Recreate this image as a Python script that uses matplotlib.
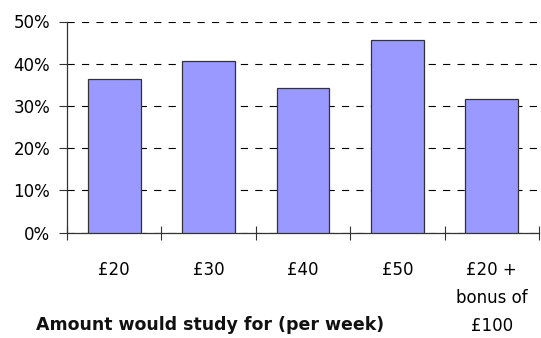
import matplotlib
matplotlib.use("Agg")
import matplotlib.pyplot as plt
from matplotlib.ticker import FuncFormatter

categories = ["£20", "£30", "£40", "£50", "£20 +\nbonus of\n£100"]
shares = [36.3, 40.7, 34.2, 45.7, 31.7]
y_ticks = [0, 10, 20, 30, 40, 50]
x_title = "Amount would study for (per week)"

plt.rcParams["font.family"] = ["DejaVu Sans"]
W, H = 541, 338
fig = plt.figure(figsize=(W / 100, H / 100), dpi=100)
ax = fig.add_axes([67 / W, 1 - 232.5 / H, (539 - 67) / W, (232.5 - 21.5) / H])

x = list(range(len(categories)))
ax.bar(x, shares, width=0.56, color="#9999FF", edgecolor="#333333",
       linewidth=0.9, zorder=3)

ax.set_xlim(-0.5, len(categories) - 0.5)
ax.set_ylim(0, 50)
ax.set_yticks(y_ticks)
ax.yaxis.set_major_formatter(FuncFormatter(lambda v, _: f"{v:.0f}%"))
ax.yaxis.grid(True, color="black", linestyle=(0, (6.5, 6.5)), linewidth=0.8,
              zorder=0)
ax.set_axisbelow(True)

# category boundaries carry the x ticks
ax.set_xticks([i - 0.5 for i in range(len(categories) + 1)])
ax.set_xticklabels([])
ax.set_xticks(x, minor=True)
ax.set_xticklabels(categories, minor=True, fontsize=12, linespacing=1.72,
                   va="top")
ax.tick_params(axis="x", which="major", direction="inout", length=10,
               width=0.8, color="#333333")
ax.tick_params(axis="x", which="minor", length=0, pad=20.5)
ax.tick_params(axis="y", direction="out", length=6, width=0.8,
               color="#333333", labelsize=12, pad=6)

for side in ("top", "right"):
    ax.spines[side].set_visible(False)
for side in ("left", "bottom"):
    ax.spines[side].set_color("#333333")
    ax.spines[side].set_linewidth(0.9)

fig.text(210.5 / W, 1 - 330 / H, x_title, ha="center", va="baseline",
         fontsize=12.5, fontweight="bold", color="#111111")

fig.savefig("out.png", dpi=100)
